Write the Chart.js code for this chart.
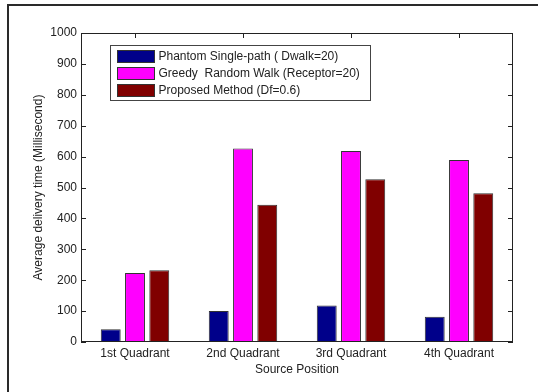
<!DOCTYPE html>
<html>
<head>
<meta charset="utf-8">
<style>
  html, body { margin: 0; padding: 0; background: #fff; }
  #wrap { width: 538px; height: 392px; position: relative; }
  canvas { display: block; }
</style>
<script src="https://cdn.jsdelivr.net/npm/chart.js@4.4.1/dist/chart.umd.min.js"></script>
</head>
<body>
<div id="wrap"><canvas id="c" width="538" height="392"></canvas></div>
<script>
// Average delivery time per source position
const categories = ['1st Quadrant', '2nd Quadrant', '3rd Quadrant', '4th Quadrant'];
const phantomSinglePath = [41, 100, 118, 82];
const greedyRandomWalk = [223, 626, 618, 589];
const proposedMethod = [232, 444, 527, 481];
const yTicks = [0, 100, 200, 300, 400, 500, 600, 700, 800, 900, 1000];

const FONT = '"Liberation Sans", Arial, Helvetica, sans-serif';
const INK = '#222';

// Outer figure frame, box axes with inward ticks, and an in-plot legend
const framePlugin = {
  id: 'matlabFrame',
  beforeDraw(chart) {
    const ctx = chart.ctx;
    ctx.save();
    ctx.fillStyle = '#fff';
    ctx.fillRect(0, 0, chart.width, chart.height);
    ctx.strokeStyle = '#2a2a2a';
    ctx.lineWidth = 2;
    ctx.beginPath();
    ctx.moveTo(8, chart.height);
    ctx.lineTo(8, 5);
    ctx.lineTo(chart.width, 5);
    ctx.stroke();
    ctx.restore();
  },
  beforeDatasetsDraw(chart) {
    const { ctx, chartArea: a, scales: { x, y } } = chart;
    const len = 5;
    ctx.save();
    ctx.strokeStyle = INK;
    ctx.lineWidth = 1;
    ctx.beginPath();
    yTicks.forEach(v => {
      const py = Math.round(y.getPixelForValue(v)) + 0.5;
      ctx.moveTo(a.left, py); ctx.lineTo(a.left + len, py);
      ctx.moveTo(a.right, py); ctx.lineTo(a.right - len, py);
    });
    categories.forEach((_, i) => {
      const px = Math.round(x.getPixelForValue(i)) + 0.5;
      ctx.moveTo(px, a.top); ctx.lineTo(px, a.top + len);
      ctx.moveTo(px, a.bottom); ctx.lineTo(px, a.bottom - len);
    });
    ctx.stroke();
    ctx.restore();
  },
  afterDatasetsDraw(chart) {
    const { ctx, chartArea: a } = chart;
    ctx.save();
    ctx.strokeStyle = INK;
    ctx.lineWidth = 1;
    ctx.strokeRect(Math.round(a.left) + 0.5, Math.round(a.top) + 0.5,
                   Math.round(a.right - a.left) - 1, Math.round(a.bottom - a.top) - 1);

    // legend box
    const bx = 110.5, by = 45.5, bw = 260, bh = 55;
    ctx.fillStyle = '#fff';
    ctx.fillRect(bx, by, bw, bh);
    ctx.strokeStyle = '#444';
    ctx.strokeRect(bx, by, bw, bh);
    ctx.font = '12px ' + FONT;
    ctx.textBaseline = 'middle';
    ctx.textAlign = 'left';
    chart.data.datasets.forEach((ds, i) => {
      const cy = 56 + i * 17.3;
      ctx.fillStyle = ds.backgroundColor;
      ctx.fillRect(117, Math.round(cy - 6.5), 38, 13);
      ctx.strokeStyle = '#333';
      ctx.strokeRect(117.5, Math.round(cy - 6.5) + 0.5, 37, 12);
      ctx.fillStyle = INK;
      ctx.fillText(ds.label, 158.5, cy + 0.5);
    });
    ctx.restore();
  }
};

const barStyle = { borderColor: '#333', borderWidth: 1, borderSkipped: false };

new Chart(document.getElementById('c'), {
  type: 'bar',
  data: {
    labels: categories,
    datasets: [
      { label: 'Phantom Single-path ( Dwalk=20)', data: phantomSinglePath, backgroundColor: '#00008a', ...barStyle },
      { label: 'Greedy  Random Walk (Receptor=20)', data: greedyRandomWalk, backgroundColor: '#ff00ff', ...barStyle },
      { label: 'Proposed Method (Df=0.6)', data: proposedMethod, backgroundColor: '#800000', ...barStyle }
    ]
  },
  options: {
    responsive: false,
    animation: false,
    devicePixelRatio: 1,
    layout: { padding: { top: 33, right: 25, left: 0, bottom: 0 } },
    datasets: { bar: { categoryPercentage: 0.674, barPercentage: 0.82 } },
    plugins: { legend: { display: false }, tooltip: { enabled: false } },
    scales: {
      x: {
        offset: true,
        grid: { display: false, drawTicks: false },
        border: { display: false },
        ticks: { color: INK, font: { family: FONT, size: 12 }, padding: 4, maxRotation: 0 },
        title: { display: true, text: 'Source Position', color: INK, font: { family: FONT, size: 12 }, padding: { top: 0, bottom: 15 } },
        afterFit(s) { s.height = 50; }
      },
      y: {
        min: 0,
        max: 1000,
        grid: { display: false, drawTicks: false },
        border: { display: false },
        afterBuildTicks(s) { s.ticks = yTicks.map(v => ({ value: v })); },
        ticks: { color: INK, font: { family: FONT, size: 12 }, padding: 4, callback: v => String(v) },
        title: { display: true, text: 'Average delivery time (Millisecond)', color: INK, font: { family: FONT, size: 12 }, padding: { top: 31, bottom: 0 } },
        afterFit(s) { s.width = 81; }
      }
    }
  },
  plugins: [framePlugin]
});
</script>
</body>
</html>
